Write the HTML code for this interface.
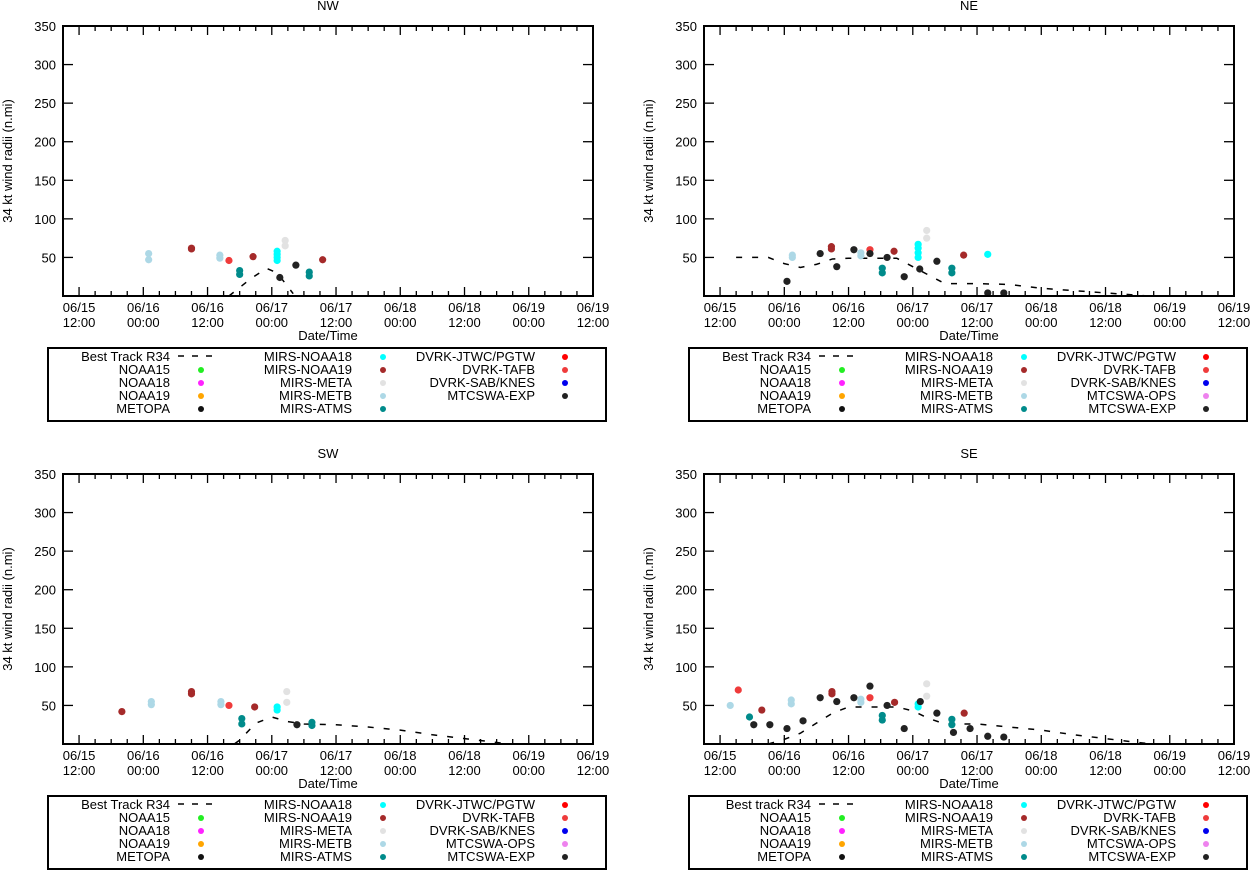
<!DOCTYPE html>
<html><head><meta charset="utf-8"><style>
body{margin:0;background:#fff;}
svg{display:block;font-family:"Liberation Sans",Arial,sans-serif;}
</style></head><body>
<svg id="chart" width="1253" height="870" viewBox="0 0 1253 870" xmlns="http://www.w3.org/2000/svg"></svg>
<script>
// x tick labels (hours since 06/15 00:00)
const tickHours = [12,24,36,48,60,72,84,96,108];
const tickDates = ["06/15","06/16","06/16","06/17","06/17","06/18","06/18","06/19","06/19"];
const tickTimes = ["12:00","00:00","12:00","00:00","12:00","00:00","12:00","00:00","12:00"];
const yTicks = [50,100,150,200,250,300,350];
const panelTitles = ["NW","NE","SW","SE"];

// Best track per panel [hour, value]
const nwBest = [[40,0],[44,22],[47,36],[49,30],[52,3]];
const neBest = [[15,50],[21,50],[24,42],[27,37],[30,41],[33,48],[36,49],[42,49],[45,49],[48,38],[51,27],[54,16],[60,16],[66,15],[72,10],[78,7],[84,4],[90,1],[92,0]];
const swBest = [[41,0],[42,5],[45,27],[48,35],[51,29],[54,26],[60,25],[66,22],[72,18],[78,12],[84,7],[90,2],[92,0]];
const seBest = [[21,0],[24,6],[27,14],[30,27],[33,40],[36,48],[42,48],[45,48],[48,43],[51,33],[54,26],[60,26],[66,22],[72,18],[78,12],[84,7],[90,2],[93,0]];

// Observations per panel: [hour, value, series]
const nwObs = [[25,55,"metb"],[25,47,"metb"],[33,62,"n19"],[33,61,"n19"],[38.3,53,"metb"],[38.3,49,"metb"],[40,46,"tafb"],[42,33,"atms"],[42,28,"atms"],[44.5,51,"n19"],[49,58,"n18"],[49,54,"n18"],[49,50,"n18"],[49,46,"n18"],[50.5,72,"meta"],[50.5,65,"meta"],[49.5,24,"exp"],[52.5,40,"exp"],[55,31,"atms"],[55,26,"atms"],[57.5,47,"n19"]];
const neObs = [[25.5,50,"metb"],[25.5,53,"metb"],[24.5,19,"exp"],[30.7,55,"exp"],[32.8,61,"n19"],[32.8,64,"n19"],[33.8,38,"exp"],[37,60,"exp"],[38.3,52,"metb"],[38.3,56,"metb"],[40,60,"tafb"],[40,55,"exp"],[43.2,50,"exp"],[42.3,36,"atms"],[42.3,30,"atms"],[44.5,58,"n19"],[46.4,25,"exp"],[49,50,"n18"],[49,56,"n18"],[49,62,"n18"],[49,67,"n18"],[50.6,85,"meta"],[50.6,75,"meta"],[49.3,35,"exp"],[52.5,45,"exp"],[55.3,36,"atms"],[55.3,30,"atms"],[57.5,53,"n19"],[62,54,"n18"],[62,4,"exp"],[65,4,"exp"]];
const swObs = [[20,42,"n19"],[25.5,51,"metb"],[25.5,55,"metb"],[33,65,"n19"],[33,68,"n19"],[38.5,51,"metb"],[38.5,55,"metb"],[40,50,"tafb"],[42.4,26,"atms"],[42.4,33,"atms"],[44.8,48,"n19"],[49,44,"n18"],[49,48,"n18"],[50.8,68,"meta"],[50.8,54,"meta"],[52.7,25,"exp"],[55.5,24,"atms"],[55.5,28,"atms"]];
const seObs = [[13.9,50,"metb"],[15.4,70,"tafb"],[17.5,35,"atms"],[18.3,25,"exp"],[19.8,44,"n19"],[21.3,25,"exp"],[24.5,20,"exp"],[25.3,52,"metb"],[25.3,57,"metb"],[27.5,30,"exp"],[30.7,60,"exp"],[32.9,65,"n19"],[32.9,68,"n19"],[33.8,55,"exp"],[37,60,"exp"],[38.3,54,"metb"],[38.3,58,"metb"],[40,60,"tafb"],[40,75,"exp"],[43.2,50,"exp"],[42.3,31,"atms"],[42.3,37,"atms"],[44.6,54,"n19"],[46.4,20,"exp"],[49,48,"n18"],[49,52,"n18"],[49.4,55,"exp"],[50.6,78,"meta"],[50.6,62,"meta"],[52.5,40,"exp"],[55.3,25,"atms"],[55.3,32,"atms"],[55.6,15,"exp"],[57.6,40,"n19"],[58.7,20,"exp"],[62,10,"exp"],[65,9,"exp"]];

const colors = {n15:"#22ee22",n18:"#ff22ff",n19:"#a52a2a",meta:"#e2e2e2",metb:"#add8e6",atms:"#008b8b",n18m:"#00ffff",n19f:"#ff9f00",metopa:"#111",jtwc:"#ff0000",tafb:"#ef3b3b",sab:"#0000ee",ops:"#ee82ee",exp:"#222"};
colors.n18 = "#00ffff";

const NS="http://www.w3.org/2000/svg";
const svg=document.getElementById('chart');
function mk(tag,attrs,parent){const e=document.createElementNS(NS,tag);for(const k in attrs)e.setAttribute(k,attrs[k]);(parent||svg).appendChild(e);return e;}

const panels=[
 {L:63,T:26,B:296,best:nwBest,obs:nwObs,name:"nw",legY:348,bestLabel:"Best Track R34",col3:[["DVRK-JTWC/PGTW","#ff0000"],["DVRK-TAFB","#ef3b3b"],["DVRK-SAB/KNES","#0000ee"],["MTCSWA-EXP","#222"]]},
 {L:704,T:26,B:296,best:neBest,obs:neObs,name:"ne",legY:348,bestLabel:"Best Track R34",col3:[["DVRK-JTWC/PGTW","#ff0000"],["DVRK-TAFB","#ef3b3b"],["DVRK-SAB/KNES","#0000ee"],["MTCSWA-OPS","#ee82ee"],["MTCSWA-EXP","#222"]]},
 {L:63,T:474,B:744,best:swBest,obs:swObs,name:"sw",legY:796,bestLabel:"Best Track R34",col3:[["DVRK-JTWC/PGTW","#ff0000"],["DVRK-TAFB","#ef3b3b"],["DVRK-SAB/KNES","#0000ee"],["MTCSWA-OPS","#ee82ee"],["MTCSWA-EXP","#222"]]},
 {L:704,T:474,B:744,best:seBest,obs:seObs,name:"se",legY:796,bestLabel:"Best track R34",col3:[["DVRK-JTWC/PGTW","#ff0000"],["DVRK-TAFB","#ef3b3b"],["DVRK-SAB/KNES","#0000ee"],["MTCSWA-OPS","#ee82ee"],["MTCSWA-EXP","#222"]]}
];
const W=530, H0=9, H1=108;

panels.forEach((p,i)=>{
  const g=mk('g',{});
  
  
  const xs=h=>p.L+(h-H0)*W/(H1-H0);
  const ys=v=>p.B-v*(p.B-p.T)/350;
  const t=mk('text',{x:p.L+W/2,y:p.T-16,'text-anchor':'middle','font-size':13},g);
  t.textContent=panelTitles[i];
  
  
  // minor ticks
  for(let h=H0;h<=H1;h+=3){
    const major=(h%12===0);const len=major?9:5;
    mk('line',{x1:xs(h),x2:xs(h),y1:p.B,y2:p.B-len,stroke:'#000','stroke-width':1.3},g);
    mk('line',{x1:xs(h),x2:xs(h),y1:p.T,y2:p.T+len,stroke:'#000','stroke-width':1.3},g);
  }
  tickHours.forEach((h,k)=>{
    const a=mk('text',{x:xs(h),y:p.B+16,'text-anchor':'middle','font-size':13},g);a.textContent=tickDates[k];
    
    
    const b=mk('text',{x:xs(h),y:p.B+31,'text-anchor':'middle','font-size':13},g);b.textContent=tickTimes[k];
    
    
  });
  yTicks.forEach(v=>{
    if(v<350){mk('line',{x1:p.L,x2:p.L+10,y1:ys(v),y2:ys(v),stroke:'#000','stroke-width':1.3},g);
    mk('line',{x1:p.L+W,x2:p.L+W-10,y1:ys(v),y2:ys(v),stroke:'#000','stroke-width':1.3},g);}
    const a=mk('text',{x:p.L-7,y:ys(v)+5,'text-anchor':'end','font-size':13},g);a.textContent=v;
    
    
  });
  const yl=mk('text',{x:0,y:0,transform:`translate(${p.L-51},${(p.T+p.B)/2}) rotate(-90)`,'text-anchor':'middle','font-size':13},g);
  yl.textContent='34 kt wind radii (n.mi)';
  
  
  const xl=mk('text',{x:p.L+W/2,y:p.B+44,'text-anchor':'middle','font-size':13},g);
  xl.textContent='Date/Time';
  
  
  // best track
  const bl=mk('polyline',{points:p.best.map(d=>xs(d[0])+','+ys(d[1])).join(' '),fill:'none',stroke:'#000','stroke-width':1.5,'stroke-dasharray':'6,10'},g);
  
  
  p.obs.forEach(d=>{
    const c=mk('circle',{cx:xs(d[0]),cy:ys(d[1]),r:3.6,fill:colors[d[2]]},g);
    
    
  });
  const fr=mk('rect',{x:p.L,y:p.T,width:W,height:p.B-p.T,fill:'none',stroke:'#000','stroke-width':2},g);
  
  
  // legend
  const LX=p.L-15, LY=p.legY;
  const lg=mk('g',{},g);
  
  
  mk('rect',{x:LX,y:LY,width:558,height:73,fill:'#fff',stroke:'#000','stroke-width':2},lg);
  const cols=[
    [[p.bestLabel,null],["NOAA15","#22ee22"],["NOAA18","#ff22ff"],["NOAA19","#ffa500"],["METOPA","#111"]],
    [["MIRS-NOAA18","#00ffff"],["MIRS-NOAA19","#a52a2a"],["MIRS-META","#e2e2e2"],["MIRS-METB","#add8e6"],["MIRS-ATMS","#008b8b"]],
    p.col3];
  const rx=[122,304,487], mx=[153,335,517];
  cols.forEach((col,ci)=>col.forEach((e,ri)=>{
    const y=LY+8+ri*13;
    const tx=mk('text',{x:LX+rx[ci],y:y+5,'text-anchor':'end','font-size':13},lg);tx.textContent=e[0];
    
    
    if(e[1]) mk('circle',{cx:LX+mx[ci],cy:y+1,r:3,fill:e[1]},lg);
    else mk('line',{x1:LX+130,x2:LX+168,y1:y,y2:y,stroke:'#000','stroke-width':1.4,'stroke-dasharray':'6,8'},lg);
  }));
});
</script>
</body></html>
